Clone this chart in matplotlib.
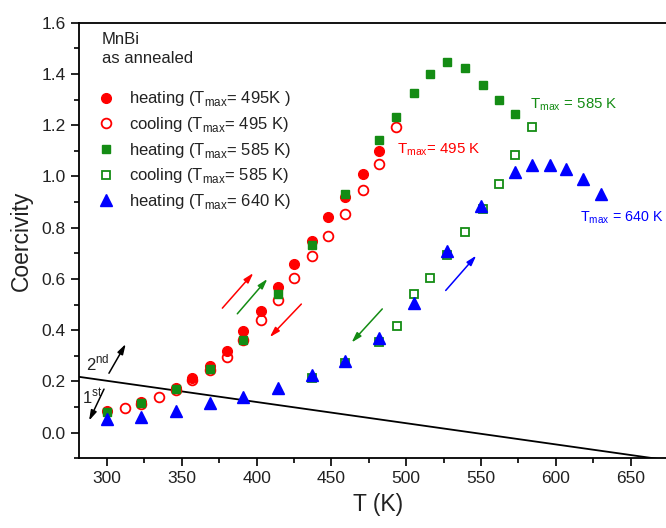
import matplotlib
matplotlib.use("Agg")
import matplotlib.pyplot as plt
from matplotlib.ticker import MultipleLocator, FormatStrFormatter

plt.rcParams['font.family'] = ['Liberation Sans', 'DejaVu Sans']
plt.rcParams['mathtext.fontset'] = 'custom'
plt.rcParams['mathtext.rm'] = 'Liberation Sans'

# ---- data ----
T_h495 = [300, 323, 346, 357, 369, 380, 391, 403, 414, 425, 437, 448, 459, 471, 482]
C_h495 = [0.085, 0.12, 0.175, 0.215, 0.26, 0.32, 0.395, 0.473, 0.567, 0.66, 0.75, 0.842, 0.92, 1.008, 1.10]

T_c495 = [312, 323, 335, 346, 357, 369, 380, 391, 403, 414, 425, 437, 448, 459, 471, 482, 493]
C_c495 = [0.095, 0.11, 0.141, 0.165, 0.206, 0.245, 0.297, 0.36, 0.438, 0.516, 0.604, 0.688, 0.769, 0.854, 0.946, 1.05, 1.194]

T_h585 = [300, 323, 346, 369, 391, 414, 437, 459, 482, 493, 505, 516, 527, 539, 551, 562, 573]
C_h585 = [0.08, 0.117, 0.17, 0.25, 0.362, 0.54, 0.733, 0.93, 1.142, 1.232, 1.327, 1.399, 1.445, 1.422, 1.357, 1.298, 1.242]

T_c585 = [437, 459, 482, 494, 505, 516, 527, 539, 551, 562, 573, 584]
C_c585 = [0.215, 0.27, 0.352, 0.418, 0.541, 0.604, 0.695, 0.782, 0.871, 0.971, 1.083, 1.193]

T_h640 = [300, 323, 346, 369, 391, 414, 437, 459, 482, 505, 527, 550, 573, 584, 596, 607, 618, 630]
C_h640 = [0.052, 0.063, 0.085, 0.115, 0.141, 0.176, 0.226, 0.278, 0.371, 0.508, 0.71, 0.884, 1.018, 1.043, 1.043, 1.03, 0.991, 0.93]

line_T = [280, 680]
line_C = [0.219, -0.112]

legend_labels = [
    'heating (T$_{\\mathregular{max}}$= 495K )',
    'cooling (T$_{\\mathregular{max}}$= 495 K)',
    'heating (T$_{\\mathregular{max}}$= 585 K)',
    'cooling (T$_{\\mathregular{max}}$= 585 K)',
    'heating (T$_{\\mathregular{max}}$= 640 K)',
]

RED = '#ff0000'
GREEN = '#148c14'
BLUE = '#0000ff'
TXT = '#222222'

fig = plt.figure(figsize=(6.66, 5.28), dpi=100)
ax = fig.add_axes([0.118, 0.132, 0.8985, 0.825])

ax.plot(line_T, line_C, color='black', lw=1.3, zorder=1)

h1, = ax.plot(T_h495, C_h495, 'o', ms=7, color=RED, mec=RED, zorder=3)
h2, = ax.plot(T_c495, C_c495, 'o', ms=7, mfc='none', mec=RED, mew=1.3, zorder=4)
h3, = ax.plot(T_h585, C_h585, 's', ms=6.3, color=GREEN, mec=GREEN, zorder=4)
h4, = ax.plot(T_c585, C_c585, 's', ms=6.3, mfc='none', mec=GREEN, mew=1.3, zorder=3)
h5, = ax.plot(T_h640, C_h640, '^', ms=8, color=BLUE, mec=BLUE, zorder=5)

ax.set_xlim(281, 681)
ax.set_ylim(-0.1, 1.6)
ax.xaxis.set_major_locator(MultipleLocator(50))
ax.xaxis.set_minor_locator(MultipleLocator(25))
ax.yaxis.set_major_locator(MultipleLocator(0.2))
ax.yaxis.set_minor_locator(MultipleLocator(0.1))
ax.yaxis.set_major_formatter(FormatStrFormatter('%.1f'))
ax.tick_params(which='major', direction='out', length=6, width=1.2, labelsize=12.5, labelcolor=TXT)
ax.tick_params(which='minor', direction='out', length=3.5, width=1.2)
for s in ['left', 'bottom', 'top']:
    ax.spines[s].set_linewidth(1.3)
ax.spines['right'].set_visible(False)

ax.set_xlabel('T (K)', fontsize=16.5, labelpad=5, color=TXT)
ax.set_ylabel('Coercivity', fontsize=16.5, labelpad=6, color=TXT)

ax.text(0.039, 0.962, 'MnBi', transform=ax.transAxes, fontsize=12, va='center', ha='left', color=TXT)
ax.text(0.039, 0.917, 'as annealed', transform=ax.transAxes, fontsize=12, va='center', ha='left', color=TXT)

leg = ax.legend([h1, h2, h3, h4, h5], legend_labels, loc='upper left',
                bbox_to_anchor=(0.02, 0.862), frameon=False, fontsize=12,
                handlelength=1.0, handletextpad=0.9, labelspacing=0.40, borderaxespad=0,
                numpoints=1)
for t in leg.get_texts():
    t.set_color(TXT)

ax.text(494, 1.105, 'T$_{\\mathregular{max}}$= 495 K', color=RED, fontsize=10.8, va='center', ha='left')
ax.text(583, 1.28, 'T$_{\\mathregular{max}}$ = 585 K', color=GREEN, fontsize=10.8, va='center', ha='left')
ax.text(616.5, 0.84, 'T$_{\\mathregular{max}}$ = 640 K', color=BLUE, fontsize=10.3, va='center', ha='left')

ax.text(294, 0.27, '2$^{\\mathregular{nd}}$', fontsize=12, va='center', ha='center', color=TXT)
ax.text(290, 0.14, '1$^{\\mathregular{st}}$', fontsize=12, va='center', ha='center', color=TXT)

def arrow(x0, y0, x1, y1, c):
    ax.annotate('', xy=(x1, y1), xytext=(x0, y0),
                arrowprops=dict(arrowstyle='-|>,head_width=0.18,head_length=0.6', color=c, lw=1.1,
                                shrinkA=0, shrinkB=0))

arrow(377.1, 0.486, 397.8, 0.623, RED)
arrow(387.1, 0.464, 407.2, 0.600, GREEN)
arrow(429.9, 0.502, 408.8, 0.373, RED)
arrow(484.0, 0.483, 463.5, 0.352, GREEN)
arrow(526.4, 0.555, 546.8, 0.691, BLUE)
arrow(301.3, 0.232, 312.5, 0.346, 'black')
arrow(298.0, 0.170, 288.0, 0.047, 'black')

fig.savefig('out.png', dpi=100)
